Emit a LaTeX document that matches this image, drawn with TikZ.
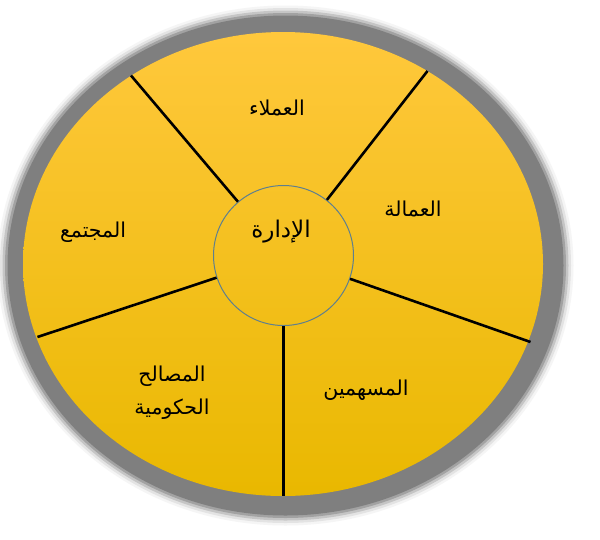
\documentclass[tikz,border=0pt]{standalone}
\usepackage{fontspec}
\newfontfamily\arabicfont[Script=Arabic]{DejaVu Sans}
\TeXXeTstate=1
\definecolor{ringgray}{HTML}{7F7F7F}
\definecolor{ytop}{HTML}{FFC83C}
\definecolor{ymid}{HTML}{FFC600}
\definecolor{ybot}{HTML}{E9B800}
\definecolor{cborder}{HTML}{5E7F8F}
\tikzset{
  divider/.style={draw=black,line width=2.6pt},
  lbl/.style={font=\arabicfont\fontsize{20.5}{33}\selectfont,text=black,inner sep=0pt,align=center},
  hublbl/.style={lbl,font=\arabicfont\fontsize{23}{28}\selectfont},
  hub/.style={circle,draw=cborder,line width=1pt,minimum size=140pt,inner sep=0pt}
}
\begin{document}
\begin{tikzpicture}[x=1pt,y=-1pt]
\useasboundingbox (0,0) rectangle (600,539);
% blurred gray ring
\fill[ringgray,opacity=0.08] (285.5,265.5) ellipse [x radius=288, y radius=260];
\fill[ringgray,opacity=0.15] (285.5,265.5) ellipse [x radius=285.5, y radius=257.5];
\fill[ringgray,opacity=0.3] (285.5,265.5) ellipse [x radius=283, y radius=255];
\fill[ringgray,opacity=0.5] (285.5,265.5) ellipse [x radius=280.5, y radius=252.5];
\fill[ringgray] (285.5,265.5) ellipse [x radius=278, y radius=250];
% yellow disc
\shade[top color=ytop,middle color=ymid,bottom color=ybot] (283,264) ellipse [x radius=260, y radius=232];
% hub
\node[hub] (c) at (283.5,255.5) {};
% outer ends of dividers
\coordinate (o1) at (131,75.5);
\coordinate (o2) at (427.5,71);
\coordinate (o3) at (530.5,342);
\coordinate (o4) at (283.5,496);
\coordinate (o5) at (37.5,337);
\draw[divider] (c) -- (o1);
\draw[divider] (c) -- (o2);
\draw[divider] (c) -- (o3);
\draw[divider] (c) -- (o4);
\draw[divider] (c) -- (o5);
% labels
\node[hublbl] (t0) at (281,232) {\beginR الإدارة\endR};
\node[lbl] (t1) at (277,108) {\beginR العملاء\endR};
\node[lbl] (t2) at (413,209) {\beginR العمالة\endR};
\node[lbl] (t3) at (93,232) {\beginR المجتمع\endR};
\node[lbl] (t4) at (172,393) {\beginR المصالح\endR\\\beginR الحكومية\endR};
\node[lbl] (t5) at (366,390) {\beginR المسهمين\endR};
\end{tikzpicture}
\end{document}
